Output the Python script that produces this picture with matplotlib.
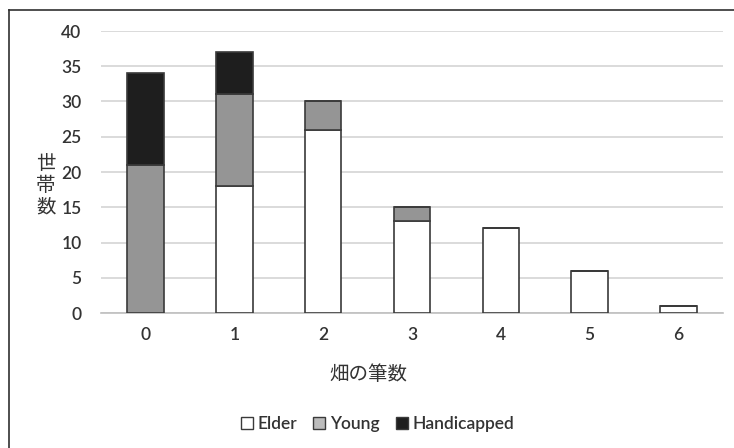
import matplotlib
matplotlib.use("Agg")
import matplotlib.pyplot as plt
from matplotlib.lines import Line2D

categories = ["0", "1", "2", "3", "4", "5", "6"]
elder = [0, 18, 26, 13, 12, 6, 1]
young = [21, 13, 4, 2, 0, 0, 0]
handicapped = [13, 6, 0, 0, 0, 0, 0]
yticks = [0, 5, 10, 15, 20, 25, 30, 35, 40]

plt.rcParams['font.family'] = ['Lato', 'Noto Sans CJK JP', 'DejaVu Sans']
txt = '#333333'

fig = plt.figure(figsize=(7.34, 4.48), dpi=100)
ax = fig.add_axes([101/734, 1-313/448, 622/734, 282/448])

x = list(range(len(categories)))
w = 0.41
ec = '#3a3a3a'
ax.bar(x, elder, w, color='white', edgecolor=ec, linewidth=1.2, zorder=3)
b2 = [e for e in elder]
ax.bar(x, young, w, bottom=b2, color='#959595', edgecolor=ec, linewidth=1.2, zorder=3)
b3 = [e + y for e, y in zip(elder, young)]
ax.bar(x, handicapped, w, bottom=b3, color='#1e1e1e', edgecolor=ec, linewidth=1.2, zorder=3)

ax.set_xlim(-0.5, len(categories) - 0.5)
ax.set_ylim(0, 40)
ax.set_yticks(yticks)
ax.set_xticks(x)
ax.set_xticklabels(categories)
ax.grid(axis='y', color='#d4d4d4', linewidth=1.2, zorder=0)
for s in ['top', 'right', 'left']:
    ax.spines[s].set_visible(False)
ax.spines['bottom'].set_color('#bfbfbf')
ax.spines['bottom'].set_linewidth(1.2)
ax.tick_params(length=0, labelsize=12.5, colors=txt, pad=14)
ax.tick_params(axis='x', pad=10)
for lab in ax.get_xticklabels() + ax.get_yticklabels():
    lab.set_fontweight('semibold')

fig.text(46/734, 1-185/448, "世\n帯\n数", ha='center', va='center', fontsize=14,
         color=txt, family=['Noto Sans CJK JP'], linespacing=1.05)
fig.text(368/734, 1-374/448, "畑の筆数", ha='center', va='center', fontsize=14,
         color=txt, family=['Noto Sans CJK JP'])

handles = [
    Line2D([], [], marker='s', linestyle='none', markersize=9, markerfacecolor='white', markeredgecolor=ec),
    Line2D([], [], marker='s', linestyle='none', markersize=9, markerfacecolor='#bcbcbc', markeredgecolor=ec),
    Line2D([], [], marker='s', linestyle='none', markersize=9, markerfacecolor='#1e1e1e', markeredgecolor=ec),
]
leg = fig.legend(handles, ["Elder", "Young", "Handicapped"], loc='center', bbox_to_anchor=(377/734, 1-424/448),
           ncol=3, frameon=False, fontsize=12.5, handlelength=0.8, handletextpad=0.2, columnspacing=0.9,
           labelcolor=txt)
for t in leg.get_texts():
    t.set_fontweight('semibold')

# frame lines (top and left)
fig.add_artist(Line2D([9/734, 9/734], [0, 1-10/448], color='#303030', linewidth=1.2, transform=fig.transFigure))
fig.add_artist(Line2D([9/734, 1], [1-10/448, 1-10/448], color='#303030', linewidth=1.2, transform=fig.transFigure))

fig.savefig("out.png", dpi=100)
